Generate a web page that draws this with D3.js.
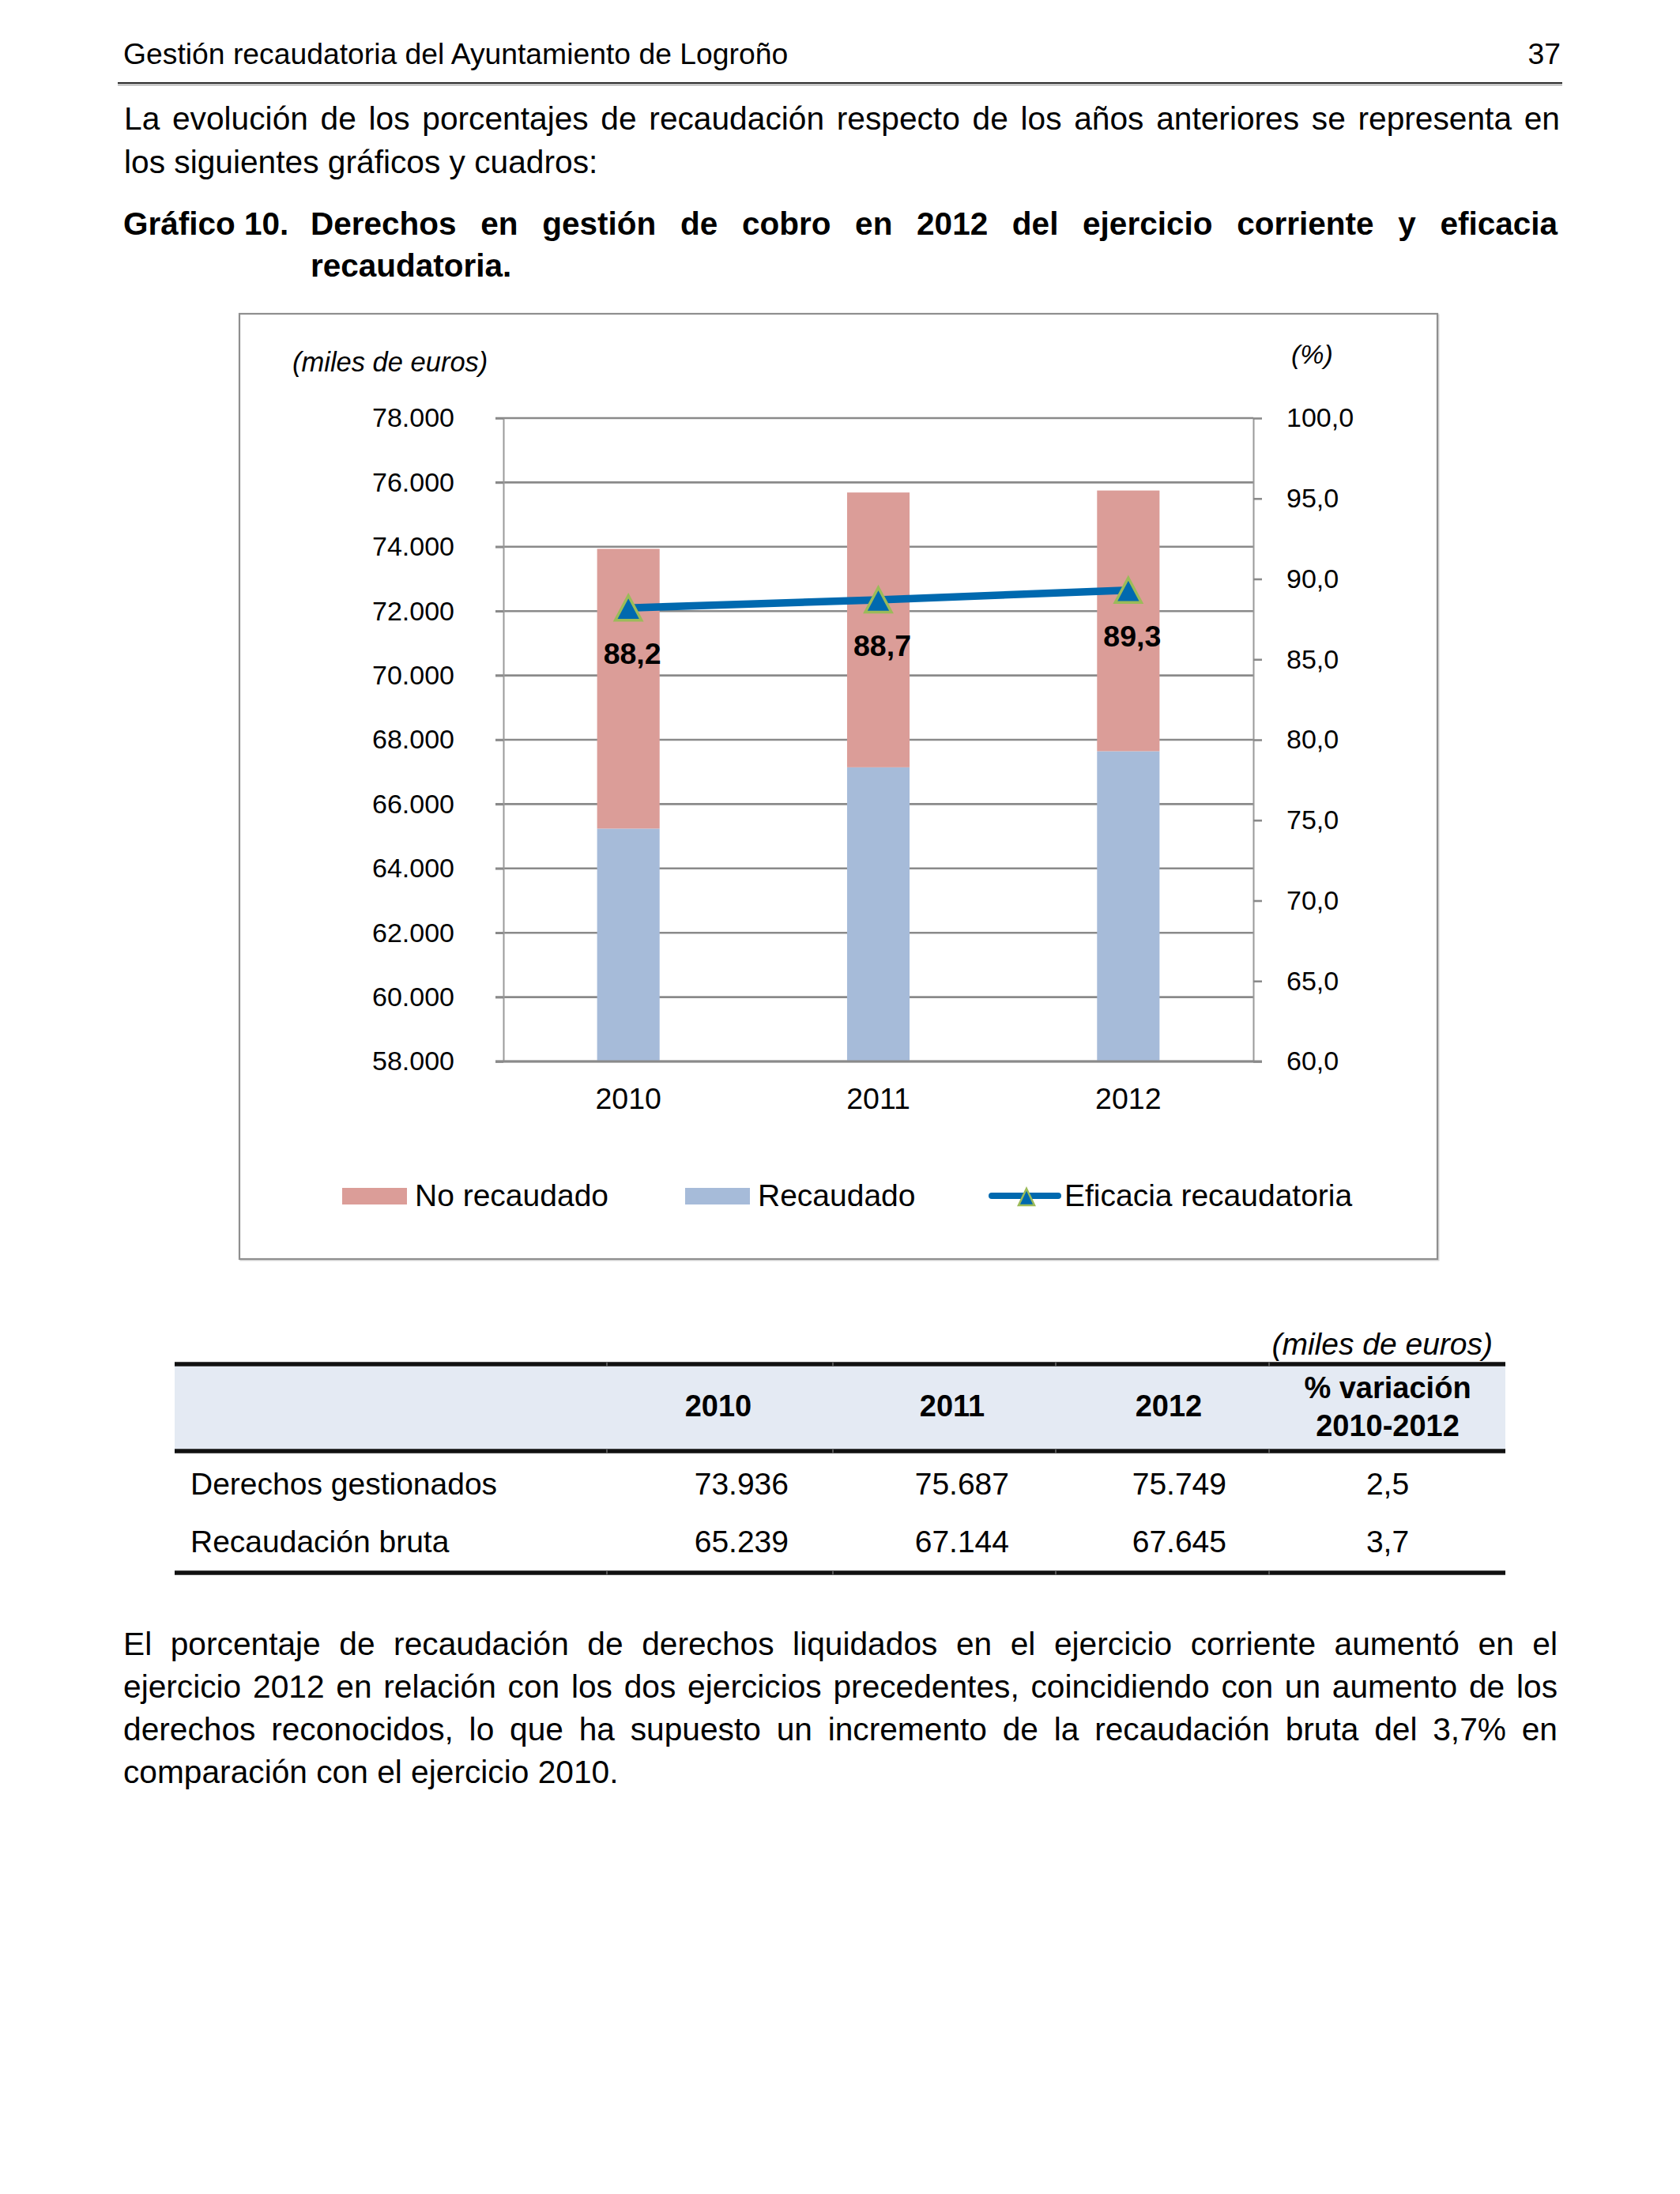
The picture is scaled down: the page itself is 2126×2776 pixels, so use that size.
<!DOCTYPE html>
<html><head><meta charset="utf-8">
<script src="https://cdn.jsdelivr.net/npm/d3@7"></script>
<style>html,body{margin:0;padding:0;background:#fff}svg{display:block}</style>
</head><body>
<svg id="c" width="2126" height="2776"></svg>
<script>
// ---------- data ----------
const years = ["2010", "2011", "2012"];
const recaudado = [65239, 67144, 67645];
const noRecaudado = [8697, 8543, 8104];
const eficacia = [88.2, 88.7, 89.3];
const leftTicks = [58000, 60000, 62000, 64000, 66000, 68000, 70000, 72000, 74000, 76000, 78000];
const rightTicks = [60, 65, 70, 75, 80, 85, 90, 95, 100];
const seriesNames = ["No recaudado", "Recaudado", "Eficacia recaudatoria"];

const tableRowLabels = ["Derechos gestionados", "Recaudación bruta"];
const derechos = [73936, 75687, 75749];
const recaudacionBruta = [65239, 67144, 67645];
const variacion = [2.5, 3.7];

const headerText = "Gestión recaudatoria del Ayuntamiento de Logroño";
const pageNumber = "37";
const introLines = ["La evolución de los porcentajes de recaudación respecto de los años anteriores se representa en",
                    "los siguientes gráficos y cuadros:"];
const titleLabel = "Gráfico 10.";
const titleLines = ["Derechos en gestión de cobro en 2012 del ejercicio corriente y eficacia", "recaudatoria."];
const closingLines = ["El porcentaje de recaudación de derechos liquidados en el ejercicio corriente aumentó en el",
  "ejercicio 2012 en relación con los dos ejercicios precedentes, coincidiendo con un aumento de los",
  "derechos reconocidos, lo que ha supuesto un incremento de la recaudación bruta del 3,7% en",
  "comparación con el ejercicio 2010."];

// ---------- setup ----------
const FONT = "'Liberation Sans', Arial, Helvetica, sans-serif";
const es = d3.formatLocale({decimal: ",", thousands: ".", grouping: [3], currency: ["", " €"]});
const fmtK = es.format(",");
const fmt1 = es.format(".1f");

const svg = d3.select("#c").style("font-family", FONT);
svg.append("rect").attr("width", 2126).attr("height", 2776).attr("fill", "#fff");

function textLine(str, x0, x1, y, size, opts = {}) {
  const t = svg.append("text").attr("x", x0).attr("y", y)
    .attr("font-size", size).attr("fill", "#000")
    .attr("font-weight", opts.bold ? "bold" : null)
    .attr("font-style", opts.italic ? "italic" : null)
    .text(str);
  if (x1 != null) {
    const w = t.node().getComputedTextLength();
    const n = str.split(" ").length - 1;
    if (n > 0) t.style("word-spacing", ((x1 - x0 - w) / n) + "px");
  }
  return t;
}

// ---------- page header ----------
textLine(headerText, 156, null, 81, 37.3);
svg.append("text").attr("x", 1975).attr("y", 81).attr("font-size", 37.3).attr("text-anchor", "end").text(pageNumber);
svg.append("line").attr("x1", 149).attr("x2", 1977).attr("y1", 105).attr("y2", 105).attr("stroke", "#2a2a2a").attr("stroke-width", 2.2);
svg.append("line").attr("x1", 149).attr("x2", 1977).attr("y1", 107.5).attr("y2", 107.5).attr("stroke", "#a0a0a0").attr("stroke-width", 1.5);

// intro paragraph
textLine(introLines[0], 157, 1974, 164, 40.7);
textLine(introLines[1], 157, null, 219, 40.7);

// title
textLine(titleLabel, 156, null, 297, 40.5, {bold: true});
textLine(titleLines[0], 393, 1971, 297, 40.5, {bold: true});
textLine(titleLines[1], 393, null, 350, 40.5, {bold: true});

// ---------- chart box ----------
svg.append("rect").attr("x", 304.5).attr("y", 398.5).attr("width", 1516).attr("height", 1196)
  .attr("fill", "none").attr("stroke", "#d8d8d8").attr("stroke-width", 2);
svg.append("rect").attr("x", 303).attr("y", 397).attr("width", 1516).attr("height", 1196)
  .attr("fill", "#fff").attr("stroke", "#8f8f8f").attr("stroke-width", 2.2);

const X0 = 637, X1 = 1586, Y0 = 1343, Y1 = 529;
const x = d3.scaleBand().domain(years).range([X0, X1]).paddingInner(0.75).paddingOuter(0.375);
const yL = d3.scaleLinear().domain([58000, 78000]).range([Y0, Y1]);
const yR = d3.scaleLinear().domain([60, 100]).range([Y0, Y1]);

// gridlines
svg.append("g").selectAll("line").data(leftTicks).join("line")
  .attr("x1", X0 - 10).attr("x2", X1)
  .attr("y1", d => yL(d)).attr("y2", d => yL(d))
  .attr("stroke", "#8a8a8a").attr("stroke-width", 2.6);

// stacked bars
const rows = years.map((y, i) => ({year: y, recaudado: recaudado[i], noRecaudado: noRecaudado[i]}));
const stack = d3.stack().keys(["recaudado", "noRecaudado"])(rows);
const colors = {recaudado: "#a6bbd9", noRecaudado: "#db9d98"};
svg.append("clipPath").attr("id", "plotclip").append("rect")
  .attr("x", X0).attr("y", Y1 - 50).attr("width", X1 - X0).attr("height", Y0 - Y1 + 50);
const barsG = svg.append("g").attr("clip-path", "url(#plotclip)");
stack.forEach(s => {
  barsG.selectAll(null).data(s).join("rect")
    .attr("x", d => x(d.data.year)).attr("width", x.bandwidth())
    .attr("y", d => yL(d[1])).attr("height", d => yL(d[0]) - yL(d[1]))
    .attr("fill", colors[s.key]);
});

// left axis
const axL = svg.append("g").attr("transform", `translate(${X0},0)`)
  .call(d3.axisLeft(yL).tickValues(leftTicks).tickFormat(fmtK).tickSizeInner(10).tickSizeOuter(0).tickPadding(52));
axL.select(".domain").attr("stroke", "#9a9a9a").attr("stroke-width", 2);
axL.selectAll(".tick line").attr("stroke", "#8a8a8a").attr("stroke-width", 2.6);
axL.selectAll("text").attr("font-size", 34).attr("font-family", FONT).attr("fill", "#000");

// right axis
const axR = svg.append("g").attr("transform", `translate(${X1},0)`)
  .call(d3.axisRight(yR).tickValues(rightTicks).tickFormat(fmt1).tickSizeInner(11).tickSizeOuter(0).tickPadding(31));
axR.select(".domain").attr("stroke", "#9a9a9a").attr("stroke-width", 2);
axR.selectAll(".tick line").attr("stroke", "#8a8a8a").attr("stroke-width", 2.6);
axR.selectAll("text").attr("font-size", 34).attr("font-family", FONT).attr("fill", "#000");

// bottom axis labels
const axB = svg.append("g").attr("transform", `translate(0,${Y0})`)
  .call(d3.axisBottom(x).tickSize(0).tickPadding(33));
axB.select(".domain").remove();
axB.selectAll("text").attr("font-size", 37.5).attr("font-family", FONT).attr("fill", "#000");

// baseline redraw (on top of bars)
svg.append("line").attr("x1", X0 - 10).attr("x2", X1 + 11).attr("y1", Y0).attr("y2", Y0)
  .attr("stroke", "#8a8a8a").attr("stroke-width", 2.8);

// efficacy line
const cx = d => x(d) + x.bandwidth() / 2;
const linePts = years.map((y, i) => [cx(y), yR(eficacia[i])]);
svg.append("path").attr("d", d3.line()(linePts)).attr("fill", "none")
  .attr("stroke", "#0069af").attr("stroke-width", 9.5);
const tri = d3.line()([[0, -15.5], [16.5, 15.5], [-16.5, 15.5]]) + "Z";
svg.append("g").selectAll("path").data(linePts).join("path")
  .attr("d", tri).attr("transform", d => `translate(${d[0]},${d[1]})`)
  .attr("fill", "#0069af").attr("stroke", "#9bbb59").attr("stroke-width", 3.5).attr("stroke-linejoin", "miter");
svg.append("g").selectAll("text").data(eficacia).join("text")
  .attr("x", (d, i) => linePts[i][0] + 5).attr("y", (d, i) => linePts[i][1] + 71)
  .attr("text-anchor", "middle").attr("font-size", 37.5).attr("font-weight", "bold").attr("fill", "#000")
  .text(d => fmt1(d));

// axis unit labels
svg.append("text").attr("x", 370).attr("y", 470).attr("font-size", 34.5).attr("font-style", "italic").attr("fill", "#000").text("(miles de euros)");
svg.append("text").attr("x", 1634).attr("y", 460).attr("font-size", 34).attr("font-style", "italic").attr("fill", "#000").text("(%)");

// legend
const legY = 1513;
svg.append("rect").attr("x", 433).attr("y", legY - 10).attr("width", 82).attr("height", 21).attr("fill", colors.noRecaudado);
svg.append("text").attr("x", 525).attr("y", legY + 13).attr("font-size", 39).attr("fill", "#000").text(seriesNames[0]);
svg.append("rect").attr("x", 867).attr("y", legY - 10).attr("width", 82).attr("height", 21).attr("fill", colors.recaudado);
svg.append("text").attr("x", 959).attr("y", legY + 13).attr("font-size", 39).attr("fill", "#000").text(seriesNames[1]);
svg.append("line").attr("x1", 1255).attr("x2", 1339).attr("y1", legY).attr("y2", legY)
  .attr("stroke", "#0069af").attr("stroke-width", 8).attr("stroke-linecap", "round");
svg.append("path").attr("d", d3.line()([[0, -10], [10, 11], [-10, 11]]) + "Z")
  .attr("transform", `translate(1299,${legY + 1})`)
  .attr("fill", "#0069af").attr("stroke", "#9bbb59").attr("stroke-width", 2.5);
svg.append("text").attr("x", 1347).attr("y", legY + 13).attr("font-size", 39).attr("fill", "#000").text(seriesNames[2]);

// ---------- table ----------
const TL = 221, TR = 1905;
const colBounds = [TL, 768, 1054, 1336, 1606, TR];
svg.append("text").attr("x", 1889).attr("y", 1714).attr("text-anchor", "end")
  .attr("font-size", 39).attr("font-style", "italic").text("(miles de euros)");
svg.append("rect").attr("x", TL).attr("y", 1729).attr("width", TR - TL).attr("height", 105).attr("fill", "#e4eaf3");
function thickRule(y) {
  svg.append("line").attr("x1", TL).attr("x2", TR)
    .attr("y1", y).attr("y2", y).attr("stroke", "#111").attr("stroke-width", 5.5);
  for (let i = 1; i < colBounds.length - 1; i++) {
    svg.append("line").attr("x1", colBounds[i] - 1).attr("x2", colBounds[i] + 1)
      .attr("y1", y).attr("y2", y).attr("stroke", "#555").attr("stroke-width", 5.5);
  }
}
thickRule(1726);
thickRule(1836);
thickRule(1990);

const headCenters = [909, 1205, 1479];
svg.append("g").selectAll("text").data(years).join("text")
  .attr("x", (d, i) => headCenters[i]).attr("y", 1792).attr("text-anchor", "middle")
  .attr("font-size", 38).attr("font-weight", "bold").text(d => d);
svg.append("text").attr("x", 1756).attr("y", 1769).attr("text-anchor", "middle").attr("font-size", 38).attr("font-weight", "bold").text("% variación");
svg.append("text").attr("x", 1756).attr("y", 1817).attr("text-anchor", "middle").attr("font-size", 38).attr("font-weight", "bold").text(`${years[0]}-${years[2]}`);

const valRight = [998, 1277, 1552];
const rowY = [1891, 1964];
const tableData = [derechos, recaudacionBruta];
tableRowLabels.forEach((lab, r) => {
  svg.append("text").attr("x", 241).attr("y", rowY[r]).attr("font-size", 39).text(lab);
  svg.append("g").selectAll("text").data(tableData[r]).join("text")
    .attr("x", (d, i) => valRight[i]).attr("y", rowY[r]).attr("text-anchor", "end")
    .attr("font-size", 39).text(d => fmtK(d));
  svg.append("text").attr("x", 1756).attr("y", rowY[r]).attr("text-anchor", "middle")
    .attr("font-size", 39).text(fmt1(variacion[r]));
});

// ---------- closing paragraph ----------
closingLines.forEach((l, i) => {
  textLine(l, 156, i < closingLines.length - 1 ? 1971 : null, 2094 + i * 54, 40.7);
});
</script>
</body></html>
